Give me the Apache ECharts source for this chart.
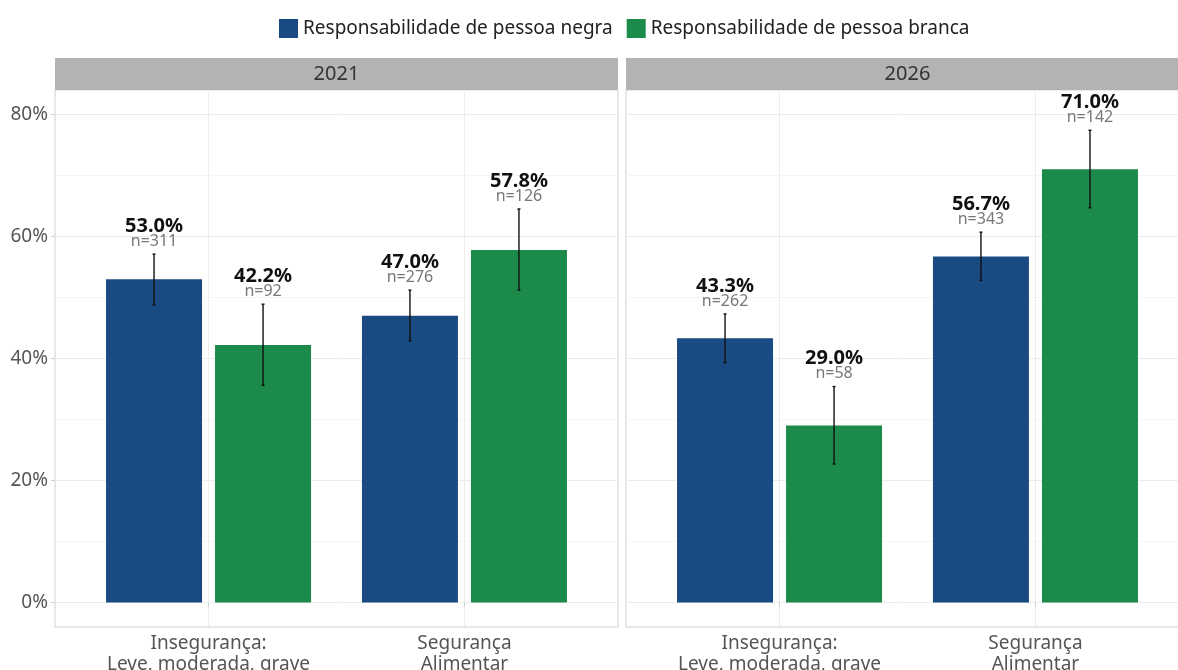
<!DOCTYPE html>
<html>
<head>
<meta charset="utf-8">
<script src="https://cdn.jsdelivr.net/npm/echarts@6/dist/echarts.min.js"></script>
<style>
  html, body { margin: 0; padding: 0; background: #fff; }
  #chart { width: 1178px; height: 670px; }
</style>
</head>
<body>
<div id="chart"></div>
<script>
// data
const CATEGORIES = ['Insegurança:\nLeve, moderada, grave', 'Segurança\nAlimentar']
const YEARS = ['2021', '2026']
const SERIES_NAMES = ['Responsabilidade de pessoa negra', 'Responsabilidade de pessoa branca']

const NEGRA_2021 = [53.0, 47.0]
const BRANCA_2021 = [42.2, 57.8]
const NEGRA_2026 = [43.3, 56.7]
const BRANCA_2026 = [29.0, 71.0]

const N_NEGRA_2021 = [311, 276]
const N_BRANCA_2021 = [92, 126]
const N_NEGRA_2026 = [262, 343]
const N_BRANCA_2026 = [58, 142]

const LO_NEGRA_2021 = [48.8, 42.9]
const HI_NEGRA_2021 = [57.1, 51.2]
const LO_BRANCA_2021 = [35.6, 51.2]
const HI_BRANCA_2021 = [48.9, 64.5]
const LO_NEGRA_2026 = [39.3, 52.8]
const HI_NEGRA_2026 = [47.3, 60.7]
const LO_BRANCA_2026 = [22.7, 64.7]
const HI_BRANCA_2026 = [35.4, 77.4]

const Y_TICKS = [0, 20, 40, 60, 80]
const Y_MINOR = [10, 30, 50, 70]

// styles
const COLORS = ['#1a4a82', '#1b8a4a']
const DODGE = 0.213
const FONT = 'Noto Sans'

const panels = [
    { year: YEARS[0], groups: [
        { vals: NEGRA_2021, n: N_NEGRA_2021, lo: LO_NEGRA_2021, hi: HI_NEGRA_2021 },
        { vals: BRANCA_2021, n: N_BRANCA_2021, lo: LO_BRANCA_2021, hi: HI_BRANCA_2021 }
    ] },
    { year: YEARS[1], groups: [
        { vals: NEGRA_2026, n: N_NEGRA_2026, lo: LO_NEGRA_2026, hi: HI_NEGRA_2026 },
        { vals: BRANCA_2026, n: N_BRANCA_2026, lo: LO_BRANCA_2026, hi: HI_BRANCA_2026 }
    ] }
]

const gridLeft = [55, 626]
const gridWidth = 563

const chart = echarts.init(document.getElementById('chart'))

const grids = [], xAxes = [], yAxes = [], series = [], graphics = []

panels.forEach((p, pi) => {
    grids.push({
        left: gridLeft[pi], top: 90, width: gridWidth, height: 537,
        outerBoundsMode: 'none', containLabel: false,
        show: true, borderColor: '#d0d0d0', borderWidth: 1, backgroundColor: 'transparent'
    })
    xAxes.push({
        type: 'value', gridIndex: pi, min: 0.4, max: 2.6,
        axisLine: { show: false },
        axisTick: { show: true, length: 4, customValues: [1, 2], lineStyle: { color: '#cfcfcf' } },
        axisLabel: {
            customValues: [1, 2], margin: 6,
            formatter: v => CATEGORIES[Math.round(v) - 1],
            fontFamily: FONT, fontSize: 19, color: '#555', lineHeight: 21
        },
        splitLine: { show: true, lineStyle: { color: '#ececec', width: 1 } }
    })
    // major y
    yAxes.push({
        type: 'value', gridIndex: pi, min: -4, max: 84,
        axisLine: { show: false },
        axisTick: { show: pi === 0, length: 4, customValues: Y_TICKS, lineStyle: { color: '#cfcfcf' } },
        axisLabel: {
            show: pi === 0, customValues: Y_TICKS, margin: 7,
            formatter: v => v + '%',
            fontFamily: FONT, fontSize: 19, color: '#555'
        },
        splitLine: { show: true, lineStyle: { color: '#ececec', width: 1 } }
    })
    // minor y
    yAxes.push({
        type: 'value', gridIndex: pi, min: -4, max: 84,
        axisLine: { show: false },
        axisTick: { show: false, customValues: Y_MINOR },
        axisLabel: { show: false, customValues: Y_MINOR },
        splitLine: { show: true, lineStyle: { color: '#f5f5f5', width: 1 } }
    })

    p.groups.forEach((g, gi) => {
        const off = gi === 0 ? -DODGE : DODGE
        series.push({
            name: SERIES_NAMES[gi], type: 'bar',
            xAxisIndex: pi, yAxisIndex: pi * 2,
            barWidth: 96, barGap: '-100%',
            itemStyle: { color: COLORS[gi] },
            data: g.vals.map((v, i) => [i + 1 + off, v]),
            z: 2
        })
        series.push({
            type: 'custom', xAxisIndex: pi, yAxisIndex: pi * 2,
            z: 5, silent: true,
            data: g.vals.map((v, i) => [i + 1 + off, v, g.lo[i], g.hi[i], g.n[i]]),
            encode: { x: 0, y: 3 },
            renderItem: (params, api) => {
                const x = api.value(0)
                const v = api.value(1)
                const top = api.coord([x, api.value(3)])
                const bot = api.coord([x, api.value(2)])
                const lineStyle = { stroke: '#111', lineWidth: 1.4 }
                return {
                    type: 'group',
                    children: [
                        { type: 'line', shape: { x1: top[0], y1: top[1], x2: bot[0], y2: bot[1] }, style: lineStyle },
                        { type: 'line', shape: { x1: top[0] - 1.5, y1: top[1], x2: top[0] + 1.5, y2: top[1] }, style: lineStyle },
                        { type: 'line', shape: { x1: bot[0] - 1.5, y1: bot[1], x2: bot[0] + 1.5, y2: bot[1] }, style: lineStyle },
                        { type: 'text', x: top[0], y: top[1] - 28, style: {
                            text: v.toFixed(1) + '%', align: 'center', verticalAlign: 'middle',
                            font: 'bold 20px "Noto Sans"', fill: '#111' } },
                        { type: 'text', x: top[0], y: top[1] - 13, style: {
                            text: 'n=' + api.value(4), align: 'center', verticalAlign: 'middle',
                            font: '16px "Noto Sans"', fill: '#777' } }
                    ]
                }
            }
        })
    })

    graphics.push({
        type: 'group', left: gridLeft[pi], top: 58,
        children: [
            { type: 'rect', shape: { x: 0, y: 0, width: gridWidth, height: 32 }, style: { fill: '#b3b3b3' } },
            { type: 'text', x: gridWidth / 2, y: 16, style: {
                text: p.year, align: 'center', verticalAlign: 'middle',
                font: '20px "Noto Sans"', fill: '#333' } }
        ]
    })
})

chart.setOption({
    animation: false,
    textStyle: { fontFamily: FONT },
    legend: {
        data: SERIES_NAMES,
        left: 279, top: 19, padding: 0,
        itemWidth: 19, itemHeight: 19, itemGap: 14, icon: 'rect',
        textStyle: { fontFamily: FONT, fontSize: 19, color: '#222' }
    },
    grid: grids,
    xAxis: xAxes,
    yAxis: yAxes,
    series: series,
    graphic: graphics
})
</script>
</body>
</html>
